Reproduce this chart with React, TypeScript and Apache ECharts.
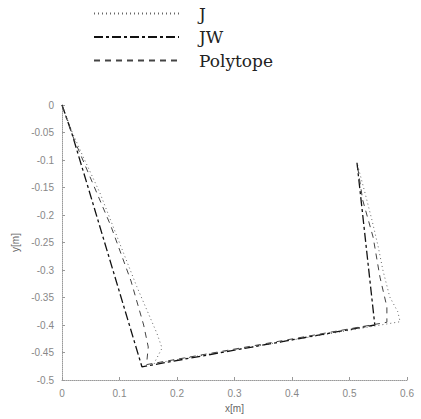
import React, { useEffect, useRef } from "react";
import * as echarts from "echarts";

const seriesNames = ["J", "JW", "Polytope"];

const jData: number[][] = [
  [0, 0], [0.018, -0.05], [0.035, -0.09], [0.066, -0.16], [0.096, -0.24], [0.13, -0.33],
  [0.165, -0.415], [0.174, -0.442], [0.16, -0.47], [0.588, -0.394], [0.584, -0.376],
  [0.57, -0.349], [0.558, -0.3], [0.55, -0.258], [0.539, -0.209], [0.527, -0.16], [0.513, -0.105],
];

const jwData: number[][] = [
  [0, 0], [0.017, -0.051], [0.139, -0.476], [0.544, -0.4], [0.513, -0.105],
];

const polytopeData: number[][] = [
  [0, 0], [0.02, -0.06], [0.085, -0.22], [0.12, -0.32], [0.142, -0.4], [0.15, -0.44], [0.147, -0.472],
  [0.565, -0.395], [0.565, -0.367], [0.553, -0.313], [0.541, -0.24], [0.523, -0.173], [0.513, -0.105],
];

const xTicks = { min: 0, max: 0.6, interval: 0.1 };
const yTicks = { min: -0.5, max: 0, interval: 0.05 };

const fmt = (v: number) => String(+v.toFixed(2));

export default function App() {
  const ref = useRef<HTMLDivElement>(null);
  useEffect(() => {
    if (!ref.current) return;
    const chart = echarts.init(ref.current, undefined, { renderer: "svg" });
    const axisLabel = { color: "#888", fontSize: 10, fontFamily: "Liberation Sans", formatter: fmt };
    const axisLine = { show: true, onZero: false, lineStyle: { color: "#999", width: 1, type: "dotted" as const } };
    const axisTick = { show: true, inside: true, length: 3, lineStyle: { color: "#999" } };
    chart.setOption({
      animation: false,
      backgroundColor: "#fff",
      legend: {
        data: seriesNames,
        orient: "vertical",
        left: 88,
        top: 0,
        itemWidth: 85,
        itemHeight: 14,
        itemGap: 6.5,
        itemStyle: { opacity: 0 },
        textStyle: {
          fontFamily: "DejaVu Serif",
          fontSize: 17,
          lineHeight: 17,
          color: "#222",
          padding: [0, 0, 0, 15],
        },
      },
      grid: { left: 62, right: 14, top: 105, bottom: 39, containLabel: false },
      xAxis: {
        type: "value",
        ...xTicks,
        name: "x[m]",
        nameLocation: "middle",
        nameGap: 23,
        nameTextStyle: { color: "#666", fontSize: 10, fontFamily: "Liberation Sans" },
        axisLine,
        axisTick,
        axisLabel,
        splitLine: { show: false },
      },
      yAxis: {
        type: "value",
        ...yTicks,
        name: "y[m]",
        nameLocation: "middle",
        nameGap: 42,
        nameTextStyle: { color: "#666", fontSize: 10, fontFamily: "Liberation Sans" },
        axisLine,
        axisTick,
        axisLabel,
        splitLine: { show: false },
      },
      series: [
        {
          name: "J",
          type: "line",
          data: jData,
          symbol: "none",
          lineStyle: { color: "#666", width: 1, type: [1, 3] },
          itemStyle: { color: "#666" },
        },
        {
          name: "JW",
          type: "line",
          data: jwData,
          symbol: "none",
          lineStyle: { color: "#111", width: 1.3, type: [9, 3, 3, 3] },
          itemStyle: { color: "#111" },
        },
        {
          name: "Polytope",
          type: "line",
          data: polytopeData,
          symbol: "none",
          lineStyle: { color: "#444", width: 1, type: [6, 5] },
          itemStyle: { color: "#444" },
        },
      ],
    });
    return () => chart.dispose();
  }, []);
  return <div ref={ref} style={{ width: 421, height: 419, position: "absolute", left: 0, top: 0 }} />;
}
